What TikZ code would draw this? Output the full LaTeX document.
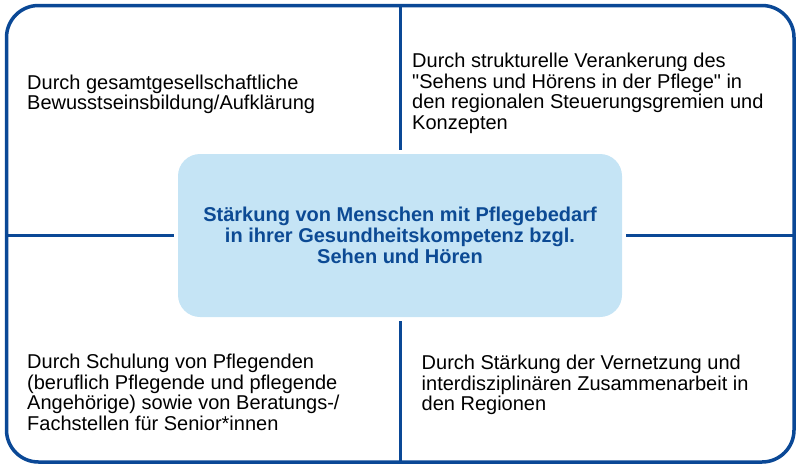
\documentclass[tikz,border=0pt]{standalone}
\usepackage{fontspec}
\setmainfont{Liberation Sans}[Ligatures=TeXOff]
\definecolor{frameblue}{RGB}{10,72,150}
\definecolor{boxfill}{RGB}{197,228,245}
\definecolor{textblue}{RGB}{12,74,148}
\begin{document}
\begin{tikzpicture}[x=1pt,y=-1pt,
  framebox/.style={draw=frameblue,line width=3.5pt,rounded corners=32pt,inner sep=0pt,outer sep=0pt,minimum width=787.5pt,minimum height=456.5pt},
  centerbox/.style={fill=boxfill,rounded corners=22pt,inner sep=0pt,outer sep=0pt,minimum width=444pt,minimum height=163pt,text=textblue,font=\fontsize{20}{20.7}\selectfont\bfseries,align=center},
  divider/.style={draw=frameblue,line width=3pt,shorten >=4pt},
  quadtext/.style={align=left,inner sep=0pt,anchor=base west,font=\fontsize{20}{20.7}\selectfont}]
\useasboundingbox (0,0) rectangle (800,471);
\node[framebox] (frame) at (400.25,233.75) {};
\node[centerbox] (c) at (400,235.5) {Stärkung von Menschen mit Pflegebedarf\\in ihrer Gesundheitskompetenz bzgl.\\Sehen und Hören};
\draw[divider] (frame.north -| c.north) -- (c.north);
\draw[divider] (frame.south -| c.south) -- (c.south);
\draw[divider] (frame.west |- c.west) -- (c.west);
\draw[divider] (frame.east |- c.east) -- (c.east);
\node[quadtext] (tl) at (27,109.7) {Durch gesamtgesellschaftliche\\Bewusstseinsbildung/Aufklärung};
\node[quadtext] (tr) at (412,129.4) {Durch strukturelle Verankerung des\\"Sehens und Hörens in der Pflege" in\\den regionalen Steuerungsgremien und\\Konzepten};
\node[quadtext] (bl) at (27,430.4) {Durch Schulung von Pflegenden\\(beruflich Pflegende und pflegende\\Angehörige) sowie von Beratungs-/\\Fachstellen für Senior*innen};
\node[quadtext] (br) at (421.5,410.7) {Durch Stärkung der Vernetzung und\\interdisziplinären Zusammenarbeit in\\den Regionen};
\end{tikzpicture}
\end{document}
